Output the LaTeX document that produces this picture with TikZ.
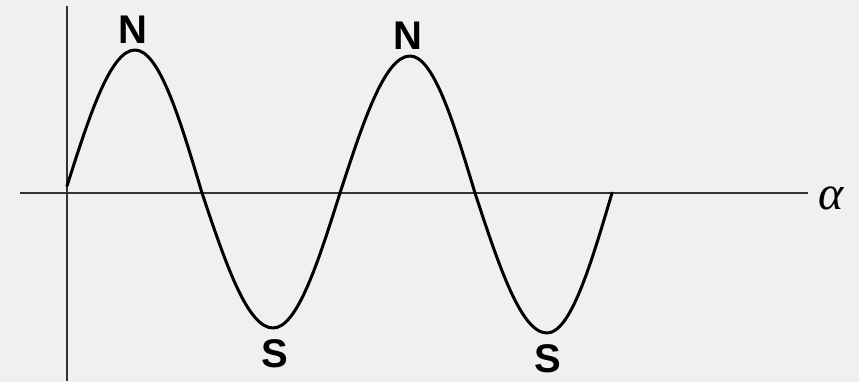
\documentclass[tikz,border=0pt]{standalone}
\usepackage{fontspec}
\newfontfamily\labfont{Liberation Sans}
\newfontfamily\alfont{Liberation Serif}
\begin{document}
\begin{tikzpicture}[x=1pt,y=-1pt,
  axis/.style={line width=2pt,color=black!80},
  wave/.style={line width=3pt,line join=round,line cap=round},
  pole/.style={font=\labfont\bfseries\fontsize{40}{40}\selectfont,inner sep=0pt}]
\fill[black!6] (0,0) rectangle (859,382);
\useasboundingbox (0,0) rectangle (859,382);
\coordinate (xl) at (20,193);
\coordinate (xr) at (808,193);
\coordinate (yt) at (67,6);
\coordinate (yb) at (67,381);
\draw[axis] (xl) -- (xr);
\draw[axis] (yt) -- (yb);
\node[inner sep=0pt,font=\alfont\itshape\fontsize{48}{48}\selectfont] (alpha) at (831,198) {α};
\draw[wave] (67,186) sin (135,50) cos (202,193) sin (273,328) cos (340,193)
  sin (410,56) cos (475,193) sin (547,333) cos (612,193);
\node[pole] (n1) at (133,30) {N};
\node[pole] (n2) at (408,36) {N};
\node[pole] (s1) at (275,354) {S};
\node[pole] (s2) at (548,359) {S};
\end{tikzpicture}
\end{document}
